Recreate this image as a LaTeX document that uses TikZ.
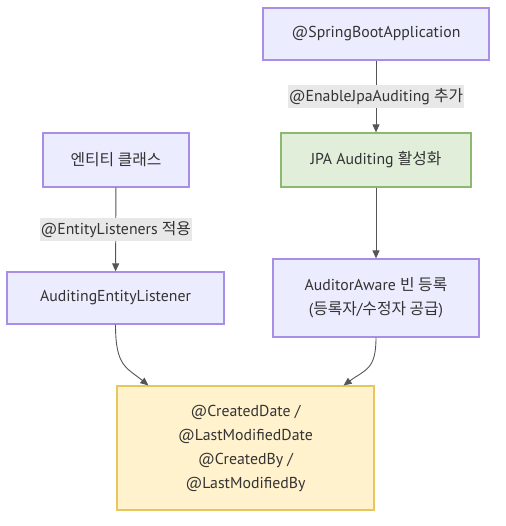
\documentclass[tikz,border=0pt]{standalone}
\usepackage{fontspec}
\setmainfont{PT Sans}
\newfontfamily\krfont{Noto Sans CJK KR}
\newcommand\KR[1]{{\krfont #1}}
\usetikzlibrary{arrows.meta,calc}
\definecolor{lavfill}{HTML}{ECECFF}
\definecolor{lavline}{HTML}{A88EE6}
\definecolor{grfill}{HTML}{E0EEDA}
\definecolor{grline}{HTML}{8DB872}
\definecolor{yefill}{HTML}{FFF2CC}
\definecolor{yeline}{HTML}{E6C75E}
\definecolor{txt}{HTML}{333333}
\definecolor{lblbg}{HTML}{E8E8E8}
\definecolor{edgecol}{HTML}{555555}
\tikzset{
  box/.style={draw=lavline, fill=lavfill, line width=1.2pt, text=txt, align=center,
    font=\fontsize{15.8}{24}\selectfont, inner sep=0pt},
  greenbox/.style={box, draw=grline, fill=grfill},
  yellowbox/.style={box, draw=yeline, fill=yefill},
  edge/.style={draw=edgecol, line width=0.9pt, -{Triangle[length=8pt,width=7pt]}},
  elabel/.style={fill=lblbg, text=txt, font=\fontsize{15.8}{18}\selectfont, inner xsep=1pt, inner ysep=3pt}
}
\begin{document}
\begin{tikzpicture}[x=1pt,y=-1pt]
\useasboundingbox (0,0) rectangle (505,526);
\node[box, minimum width=226pt, minimum height=52pt] (spring) at (376,34) {@SpringBootApplication};
\node[greenbox, minimum width=190pt, minimum height=54pt] (jpa) at (376,160) {JPA Auditing \KR{활성화}};
\node[box, minimum width=146pt, minimum height=54pt] (entity) at (116,160) {\KR{엔티티 클래스}};
\node[box, minimum width=217pt, minimum height=52pt] (ael) at (115.5,298) {AuditingEntityListener};
\node[box, minimum width=206pt, minimum height=78pt] (aware) at (376,298) {AuditorAware \KR{빈 등록}\\(\KR{등록자}/\KR{수정자 공급})};
\node[yellowbox, minimum width=257pt, minimum height=124pt] (res) at (245.5,448) {@CreatedDate /\\@LastModifiedDate\\@CreatedBy /\\@LastModifiedBy};

\coordinate (inL) at ($(res.north west)+(32,0)$);
\coordinate (inR) at ($(res.north east)+(-31,0)$);

\draw[edge] (spring) -- node[elabel] {@EnableJpaAuditing \KR{추가}} (jpa);
\draw[edge] (entity) -- node[elabel] {@EntityListeners \KR{적용}} (ael);
\draw[edge] (jpa) -- (aware);
\draw[edge] (ael.south) .. controls ($(ael.south)+(0,42)$) and ($(inL)+(-22,-18)$) .. (inL);
\draw[edge] (aware.south) .. controls ($(aware.south)+(0,32)$) and ($(inR)+(22,-16)$) .. (inR);
\end{tikzpicture}
\end{document}
